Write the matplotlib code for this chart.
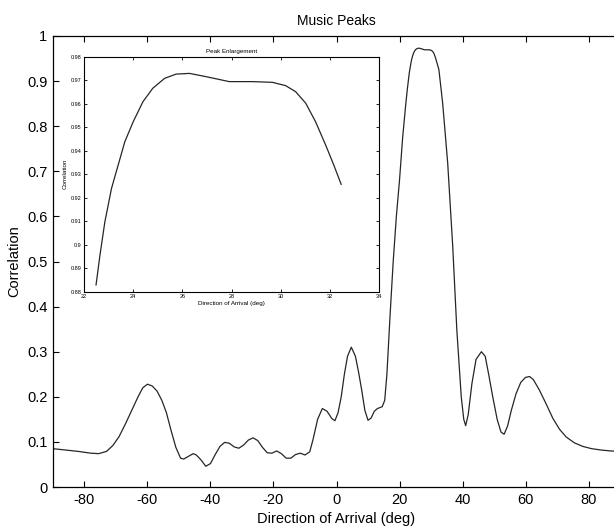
import numpy as np
import matplotlib
matplotlib.use("Agg")
import matplotlib.pyplot as plt

plt.rcParams["font.family"] = ["Liberation Sans", "DejaVu Sans"]

# main MUSIC spectrum
doa = [-90, -86, -82, -78, -75.5, -73, -71, -69, -67, -65, -63, -61.5, -60,
       -58.5, -57, -55.5, -54, -52.5, -51, -49.5, -48.5, -47, -45.5, -44.5,
       -43, -41.5, -40, -38.5, -37, -35.5, -34, -32.5, -31, -29.5, -28,
       -26.5, -25, -23.5, -22, -20.5, -19, -17.5, -16, -14.5, -13, -11.5,
       -10, -8.5, -7.5, -6, -4.5, -3, -1.5, -0.5, 0.5, 1.5, 2.5, 3.5, 4.7,
       6, 7, 8, 9, 10, 11, 12, 13, 14.5, 15.3, 16, 17, 18, 19, 20, 21, 22,
       22.5, 23.1, 23.7, 24.0, 24.4, 24.8, 25.3, 25.8, 26.3, 27.0, 27.9,
       28.9, 29.7, 30.2, 30.6, 31.0, 31.4, 31.8, 32.2, 32.5, 33.7, 35.3,
       36.9, 38.2, 39.6, 40.4, 41, 41.8, 43, 44.3, 46, 47.2, 48.3, 49.6, 51,
       52.2, 53.2, 54.3, 55.5, 57, 58.5, 60, 61.3, 62.5, 64.4, 66.5, 68.7,
       70.8, 72.9, 75.5, 78.2, 81, 84, 87, 90]
corr = [0.085, 0.082, 0.079, 0.075, 0.074, 0.079, 0.092, 0.112, 0.140, 0.170,
        0.200, 0.220, 0.228, 0.224, 0.213, 0.193, 0.165, 0.125, 0.088, 0.064,
        0.062, 0.068, 0.074, 0.071, 0.060, 0.046, 0.052, 0.072, 0.090, 0.099,
        0.097, 0.089, 0.086, 0.093, 0.104, 0.109, 0.103, 0.088, 0.076, 0.075,
        0.080, 0.074, 0.064, 0.064, 0.072, 0.075, 0.071, 0.078, 0.104, 0.150,
        0.174, 0.168, 0.152, 0.147, 0.165, 0.200, 0.250, 0.290, 0.310, 0.290,
        0.255, 0.215, 0.170, 0.148, 0.153, 0.168, 0.174, 0.178, 0.192, 0.250,
        0.380, 0.500, 0.600, 0.680, 0.775, 0.850,
        0.883, 0.918, 0.943, 0.952, 0.961, 0.967, 0.971, 0.9727, 0.9729,
        0.9715, 0.9694, 0.9694, 0.9691, 0.9677, 0.9651, 0.9602, 0.9523,
        0.9424, 0.9320, 0.9257, 0.851, 0.718, 0.533, 0.348, 0.200, 0.150,
        0.136, 0.160, 0.230, 0.283, 0.300, 0.290, 0.250, 0.200, 0.150, 0.122,
        0.117, 0.135, 0.170, 0.207, 0.232, 0.243, 0.245, 0.238, 0.215, 0.185,
        0.152, 0.128, 0.111, 0.098, 0.090, 0.085, 0.082, 0.080, 0.079]

# enlarged peak
peak_doa = [22.49, 22.65, 22.85, 23.12, 23.39, 23.66, 24.0, 24.4, 24.8,
            25.28, 25.75, 26.29, 26.97, 27.91, 28.85, 29.66, 30.2, 30.61,
            31.02, 31.42, 31.83, 32.16, 32.46]
peak_corr = [0.8829, 0.8956, 0.9098, 0.9240, 0.9339, 0.9438, 0.9523, 0.9609,
             0.9666, 0.9708, 0.9726, 0.9729, 0.9715, 0.9694, 0.9694, 0.9691,
             0.9677, 0.9651, 0.9602, 0.9523, 0.9424, 0.9339, 0.9257]

main_xticks = [-80, -60, -40, -20, 0, 20, 40, 60, 80]
main_xlabels = ["-80", "-60", "-40", "-20", "0", "20", "40", "60", "80"]
main_yticks = [0, 0.1, 0.2, 0.3, 0.4, 0.5, 0.6, 0.7, 0.8, 0.9, 1]
main_ylabels = ["0", "0.1", "0.2", "0.3", "0.4", "0.5", "0.6", "0.7",
                "0.8", "0.9", "1"]
inset_xticks = [22, 24, 26, 28, 30, 32, 34]
inset_yticks = [0.88, 0.89, 0.90, 0.91, 0.92, 0.93, 0.94, 0.95, 0.96, 0.97,
                0.98]
inset_ylabels = ["0.88", "0.89", "0.9", "0.91", "0.92", "0.93", "0.94",
                 "0.95", "0.96", "0.97", "0.98"]

line_col = "#262626"

fig = plt.figure(figsize=(6.14, 5.30), dpi=100)

ax = fig.add_axes([0.0863, 0.0811, 0.9235, 0.851])
ax.plot(doa, corr, color=line_col, lw=0.9)
ax.set_xlim(-90, 90)
ax.set_ylim(0, 1)
ax.set_xticks(main_xticks)
ax.set_xticklabels(main_xlabels)
ax.set_yticks(main_yticks)
ax.set_yticklabels(main_ylabels)
ax.tick_params(direction="in", top=True, right=True, length=4, width=0.8,
               labelsize=10.5, pad=4)
for s in ax.spines.values():
    s.set_linewidth(0.9)
ax.set_title("Music Peaks", fontsize=10, pad=8)
ax.set_xlabel("Direction of Arrival (deg)", fontsize=10.5, labelpad=4)
ax.set_ylabel("Correlation", fontsize=10.5, labelpad=4)

ins = fig.add_axes([0.1368, 0.4496, 0.4805, 0.4434])
ins.plot(peak_doa, peak_corr, color=line_col, lw=0.9)
ins.set_xlim(22, 34)
ins.set_ylim(0.88, 0.98)
ins.set_xticks(inset_xticks)
ins.set_yticks(inset_yticks)
ins.set_yticklabels(inset_ylabels)
ins.tick_params(direction="in", top=True, right=True, length=2.5, width=0.6,
                labelsize=4, pad=2)
for s in ins.spines.values():
    s.set_linewidth(0.8)
ins.set_title("Peak Enlargement", fontsize=4.5, pad=3)
ins.set_xlabel("Direction of Arrival (deg)", fontsize=4.5, labelpad=1)
ins.set_ylabel("Correlation", fontsize=4.5, labelpad=2)

fig.savefig("out.png", dpi=100)
